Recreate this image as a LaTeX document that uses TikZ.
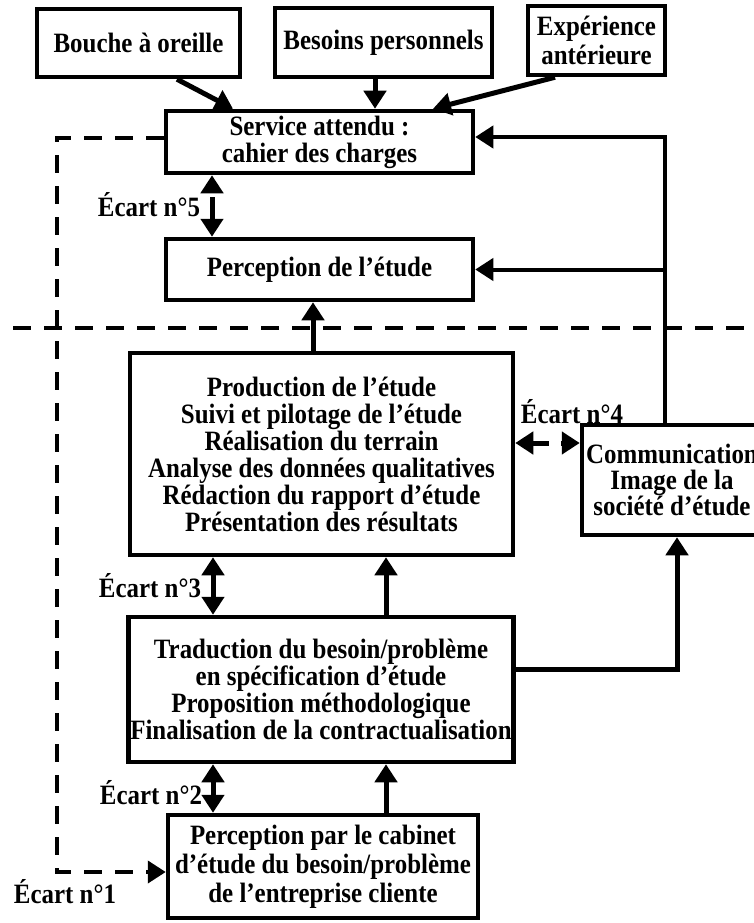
\documentclass[tikz,border=0pt]{standalone}
\usepackage{fontspec}
\setmainfont{Liberation Serif}[FakeStretch=0.89]
\usetikzlibrary{arrows.meta}

\begin{document}
\begin{tikzpicture}
    [x=1pt,y=-1pt,
     box/.style={draw,line width=4.5pt,align=center,inner sep=2pt,font=\fontsize{28}{27}\selectfont\bfseries},
     lab/.style={font=\fontsize{28}{27}\selectfont\bfseries,inner sep=0pt},
     link/.style={line width=5pt,-{Triangle[length=18pt,width=22pt]}},
     ecart/.style={line width=5pt,{Triangle[length=18pt,width=22pt]}-{Triangle[length=18pt,width=22pt]},dash pattern=on 17pt off 12pt},
     ecartv/.style={ecart,dash pattern=on 23pt off 12pt},
     sep/.style={line width=4pt,dash pattern=on 18pt off 13pt}]
    \useasboundingbox (0,0) rectangle (754,923);

    \node[box,minimum width=203pt,minimum height=68pt] (bouche) at (138.5,43) {Bouche à oreille};
    \node[box,minimum width=217pt,minimum height=69pt] (besoins) at (383.5,42.5) {Besoins personnels};
    \node[box,minimum width=137pt,minimum height=69pt,font=\fontsize{28}{29}\selectfont\bfseries] (experience) at (596.5,40.5) {Expérience\\antérieure};
    \node[box,minimum width=307pt,minimum height=62pt] (service) at (319.5,142) {Service attendu :\\cahier des charges};
    \node[box,minimum width=307pt,minimum height=61pt] (percep) at (319.5,269.5) {Perception de l’étude};
    \node[box,minimum width=383pt,minimum height=202pt] (prod) at (321.5,454) {Production de l’étude\\Suivi et pilotage de l’étude\\Réalisation du terrain\\Analyse des données qualitatives\\Rédaction du rapport d’étude\\Présentation des résultats};
    \node[box,minimum width=180pt,minimum height=110pt,font=\fontsize{28}{26}\selectfont\bfseries] (comm) at (672,480) {Communication\\Image de la\\société d’étude};
    \node[box,minimum width=382pt,minimum height=145pt] (trad) at (321,689.5) {Traduction du besoin/problème\\en spécification d’étude\\Proposition méthodologique\\Finalisation de la contractualisation};
    \node[box,minimum width=310pt,minimum height=103pt,font=\fontsize{28}{29}\selectfont\bfseries] (cabinet) at (323,866.5) {Perception par le cabinet\\d’étude du besoin/problème\\de l’entreprise cliente};

    \node[lab] (e5) at (149,205) {Écart n°5};
    \node[lab] (e4) at (572,412) {Écart n°4};
    \node[lab] (e3) at (150,586) {Écart n°3};
    \node[lab] (e2) at (151,793) {Écart n°2};
    \node[lab] (e1) at (65,892) {Écart n°1};
    \coordinate (loop) at (57,138);

    % separation
    \draw[sep] (13,328) -- (754,328);
    \draw[sep,-{Triangle[length=18pt,width=22pt]}] ([yshift=4pt]service.west) -- ([yshift=4pt]service.west -| loop) |- ([yshift=-5.5pt]cabinet.west);

    \draw[link] ([xshift=38.5pt]bouche.south) -- ([xshift=-86.5pt]service.north);
    \draw[link] ([xshift=-8.5pt]besoins.south) -- ([xshift=-8.5pt]besoins.south |- service.north);
    \draw[link] ([xshift=-41.5pt]experience.south) -- ([xshift=113.5pt]service.north);
    \draw[ecartv] ([xshift=-107.5pt]percep.north) -- ([xshift=-107.5pt]service.south);
    \draw[link] ([xshift=-8.5pt]prod.north) -- ([xshift=-8.5pt]prod.north |- percep.south);
    \draw[link,line width=4pt] ([xshift=-7pt]comm.north) |- ([yshift=5pt]service.east);
    \draw[link,line width=4pt] ([xshift=-7pt]comm.north |- percep.east) -- (percep.east);
    \draw[ecart] ([yshift=11pt]prod.east) -- ([yshift=11pt]prod.east -| comm.west);
    \draw[ecartv] ([xshift=-108.5pt]prod.south |- trad.north) -- ([xshift=-108.5pt]prod.south);
    \draw[link] ([xshift=65pt]trad.north) -- ([xshift=65pt]trad.north |- prod.south);
    \draw[ecartv] ([xshift=-108pt]trad.south |- cabinet.north) -- ([xshift=-108pt]trad.south);
    \draw[link] ([xshift=63pt]cabinet.north) -- ([xshift=63pt]cabinet.north |- trad.south);
    \draw[link] ([yshift=20.5pt]trad.east) -| ([xshift=5pt]comm.south);
  \end{tikzpicture}
\end{document}
